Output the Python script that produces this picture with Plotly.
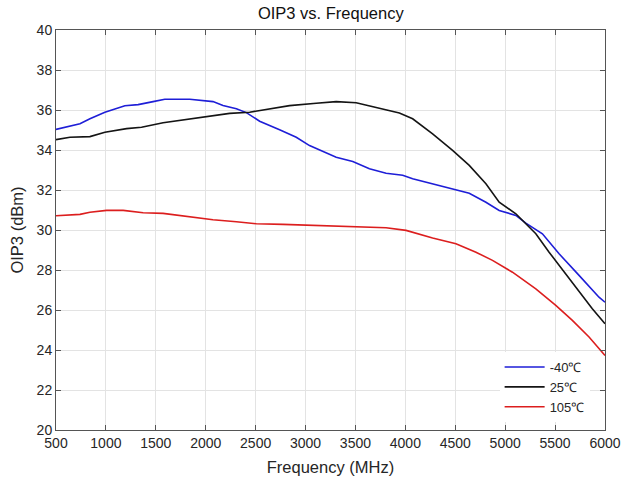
import plotly.graph_objects as go

freq_m40 = [500, 740, 840, 990, 1190, 1323, 1473, 1590, 1840, 1990, 2073, 2173, 2307, 2407,
            2540, 2740, 2907, 3040, 3307, 3473, 3640, 3807, 3973, 4073, 4207, 4273, 4473,
            4640, 4807, 4940, 5107, 5207, 5373, 5540, 5740, 5940, 6000]
oip3_m40 = [35.03, 35.31, 35.56, 35.89, 36.21, 36.27, 36.42, 36.54, 36.54, 36.47, 36.42, 36.22,
            36.06, 35.87, 35.44, 35.01, 34.64, 34.22, 33.64, 33.43, 33.06, 32.84, 32.74, 32.56,
            32.39, 32.31, 32.03, 31.84, 31.39, 30.98, 30.73, 30.34, 29.81, 28.81, 27.73, 26.64, 26.39]

freq_25 = [500, 640, 840, 990, 1207, 1357, 1573, 1840, 2007, 2240, 2440, 2573, 2840, 3107,
           3307, 3507, 3707, 3940, 4073, 4273, 4473, 4640, 4807, 4940, 5107, 5207, 5307,
           5440, 5607, 5740, 5873, 6000]
oip3_25 = [34.52, 34.64, 34.67, 34.89, 35.07, 35.14, 35.36, 35.54, 35.64, 35.83, 35.89, 36.01,
           36.22, 36.34, 36.42, 36.36, 36.14, 35.85, 35.56, 34.81, 33.98, 33.23, 32.31, 31.39,
           30.81, 30.31, 29.81, 28.89, 27.81, 26.98, 26.06, 25.31]

freq_105 = [500, 740, 840, 1007, 1173, 1373, 1573, 1773, 2073, 2307, 2507, 2773, 3007, 3240,
            3507, 3807, 4007, 4273, 4507, 4707, 4873, 5073, 5307, 5507, 5673, 5840, 6000]
oip3_105 = [30.71, 30.78, 30.89, 30.98, 30.98, 30.86, 30.83, 30.69, 30.51, 30.41, 30.31, 30.28,
            30.24, 30.20, 30.19, 30.11, 29.98, 29.60, 29.31, 28.89, 28.48, 27.89, 27.06, 26.23,
            25.48, 24.65, 23.73]

x_ticks = [500, 1000, 1500, 2000, 2500, 3000, 3500, 4000, 4500, 5000, 5500, 6000]
y_ticks = [20, 22, 24, 26, 28, 30, 32, 34, 36, 38, 40]

font_family = "Liberation Sans, Arial, sans-serif"
text_color = "#262626"

fig = go.Figure()
fig.add_trace(go.Scatter(x=freq_m40, y=oip3_m40, mode="lines", name="-40℃",
                         line=dict(color="rgb(30,30,215)", width=1.6)))
fig.add_trace(go.Scatter(x=freq_25, y=oip3_25, mode="lines", name="25℃",
                         line=dict(color="rgb(20,20,20)", width=1.6)))
fig.add_trace(go.Scatter(x=freq_105, y=oip3_105, mode="lines", name="105℃",
                         line=dict(color="rgb(220,30,30)", width=1.6)))

axis_common = dict(
    showgrid=True, gridcolor="#e3e3e3", gridwidth=1,
    showline=True, linecolor="#555555", linewidth=1, mirror="ticks",
    ticks="inside", ticklen=5, tickcolor="#555555",
    tickfont=dict(size=14, color=text_color, family=font_family),
    zeroline=False, automargin=False,
)

fig.update_layout(
    width=623, height=484,
    margin=dict(l=56, r=18, t=30, b=54),
    paper_bgcolor="white", plot_bgcolor="white",
    font=dict(family=font_family, color=text_color),
    title=dict(text="OIP3 vs. Frequency", x=0.531, xanchor="center",
               yref="container", y=1 - 7 / 484, yanchor="top",
               font=dict(size=16.5, color="#111111", family=font_family)),
    xaxis=dict(range=[500, 6000], tickvals=x_ticks,
               title=dict(text="Frequency (MHz)", font=dict(size=16.5, color=text_color), standoff=11),
               **axis_common),
    yaxis=dict(range=[20, 40], tickvals=y_ticks,
               title=dict(text="OIP3 (dBm)", font=dict(size=16.5, color=text_color), standoff=8),
               **axis_common),
    legend=dict(x=0.972, xanchor="right", y=0.02, yanchor="bottom",
                bgcolor="white", borderwidth=0,
                font=dict(size=13, color=text_color, family=font_family),
                tracegroupgap=0, itemwidth=40),
    showlegend=True,
)

fig.write_html("out.html", config={"displayModeBar": False},
               post_script="document.body.style.margin='0';")
